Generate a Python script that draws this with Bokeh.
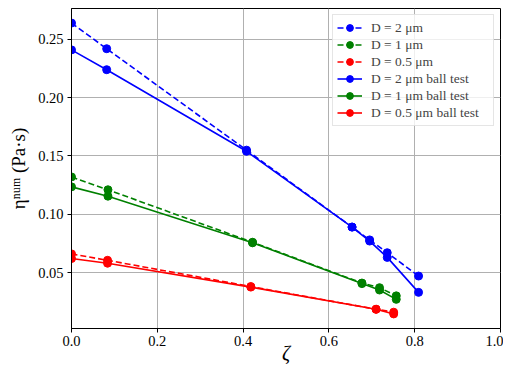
from bokeh.plotting import figure
from bokeh.models import FixedTicker, PrintfTickFormatter, Range1d
from bokeh.embed import file_html
from bokeh.resources import INLINE

# Data
zeta_2um = [0.0, 0.082, 0.408, 0.654, 0.695, 0.736, 0.809]
eta_2um = [0.264, 0.242, 0.155, 0.089, 0.078, 0.067, 0.047]
eta_2um_ball = [0.241, 0.224, 0.154, 0.089, 0.077, 0.063, 0.033]

zeta_1um = [0.0, 0.085, 0.422, 0.677, 0.718, 0.757]
eta_1um = [0.132, 0.121, 0.076, 0.041, 0.037, 0.030]
eta_1um_ball = [0.1235, 0.1155, 0.0755, 0.0405, 0.035, 0.027]

zeta_05um = [0.0, 0.084, 0.418, 0.710, 0.751]
eta_05um = [0.066, 0.0605, 0.038, 0.0185, 0.016]
eta_05um_ball = [0.062, 0.058, 0.0375, 0.0185, 0.0145]

labels = ["D = 2 μm", "D = 1 μm", "D = 0.5 μm",
          "D = 2 μm ball test", "D = 1 μm ball test", "D = 0.5 μm ball test"]
colors = ["#0000ff", "#008000", "#ff0000"]

x_ticks = [0.0, 0.2, 0.4, 0.6, 0.8, 1.0]
y_ticks = [0.05, 0.10, 0.15, 0.20, 0.25]

FONT = "Liberation Serif"

p = figure(width=503, height=369, output_backend="svg", toolbar_location=None,
           x_range=Range1d(0.0, 1.0), y_range=Range1d(0.002, 0.2765),
           min_border_left=71, min_border_right=3, min_border_top=8, min_border_bottom=41)

series = [
    (zeta_2um, eta_2um, colors[0], "dashed", labels[0]),
    (zeta_1um, eta_1um, colors[1], "dashed", labels[1]),
    (zeta_05um, eta_05um, colors[2], "dashed", labels[2]),
    (zeta_2um, eta_2um_ball, colors[0], "solid", labels[3]),
    (zeta_1um, eta_1um_ball, colors[1], "solid", labels[4]),
    (zeta_05um, eta_05um_ball, colors[2], "solid", labels[5]),
]
for xs, ys, c, dash, lab in series:
    ld = "6 3" if dash == "dashed" else "solid"
    p.line(xs, ys, line_color=c, line_width=1.6, line_dash=ld, legend_label=lab)
    p.scatter(xs, ys, size=8, fill_color=c, line_color=c, legend_label=lab)

p.xaxis.ticker = FixedTicker(ticks=x_ticks)
p.yaxis.ticker = FixedTicker(ticks=y_ticks)
p.xaxis.formatter = PrintfTickFormatter(format="%.1f")
p.yaxis.formatter = PrintfTickFormatter(format="%.2f")

for ax in (p.xaxis[0], p.yaxis[0]):
    ax.major_label_text_font = FONT
    ax.major_label_text_font_size = "14.5px"
    ax.major_label_text_color = "black"
    ax.axis_label_text_font = FONT
    ax.axis_label_text_font_style = "normal"
    ax.axis_label_text_color = "black"
    ax.minor_tick_line_color = None
    ax.major_tick_in = 0
    ax.major_tick_out = 4
    ax.major_tick_line_color = "black"
    ax.axis_line_color = "black"
    ax.major_label_standoff = 4

p.xaxis.major_label_standoff = 3
p.xaxis.axis_label = "ζ"
p.xaxis.axis_label_text_font_style = "italic"
p.xaxis.axis_label_text_font_size = "20px"
p.xaxis.axis_label_standoff = -7
p.yaxis.axis_label = "ηⁿᵘᵐ (Pa·s)"
p.yaxis.axis_label_text_font_size = "19px"
p.yaxis.axis_label_standoff = 6

p.xgrid.grid_line_color = "#b0b0b0"
p.ygrid.grid_line_color = "#b0b0b0"
p.xgrid.ticker = FixedTicker(ticks=x_ticks)
p.ygrid.ticker = FixedTicker(ticks=y_ticks)

p.outline_line_color = "black"
p.outline_line_width = 1
p.outline_line_alpha = 1
p.background_fill_color = "white"

lg = p.legend[0]
lg.location = "top_right"
lg.margin = 6
lg.padding = 4
lg.spacing = 0
lg.glyph_width = 25
lg.glyph_height = 17
lg.label_height = 17
lg.label_width = 118
lg.label_standoff = 9
lg.label_text_font = FONT
lg.label_text_font_size = "13.5px"
lg.border_line_color = "#cccccc"
lg.border_line_width = 1
lg.background_fill_alpha = 0.8

open("out.html", "w").write(file_html(p, INLINE))
